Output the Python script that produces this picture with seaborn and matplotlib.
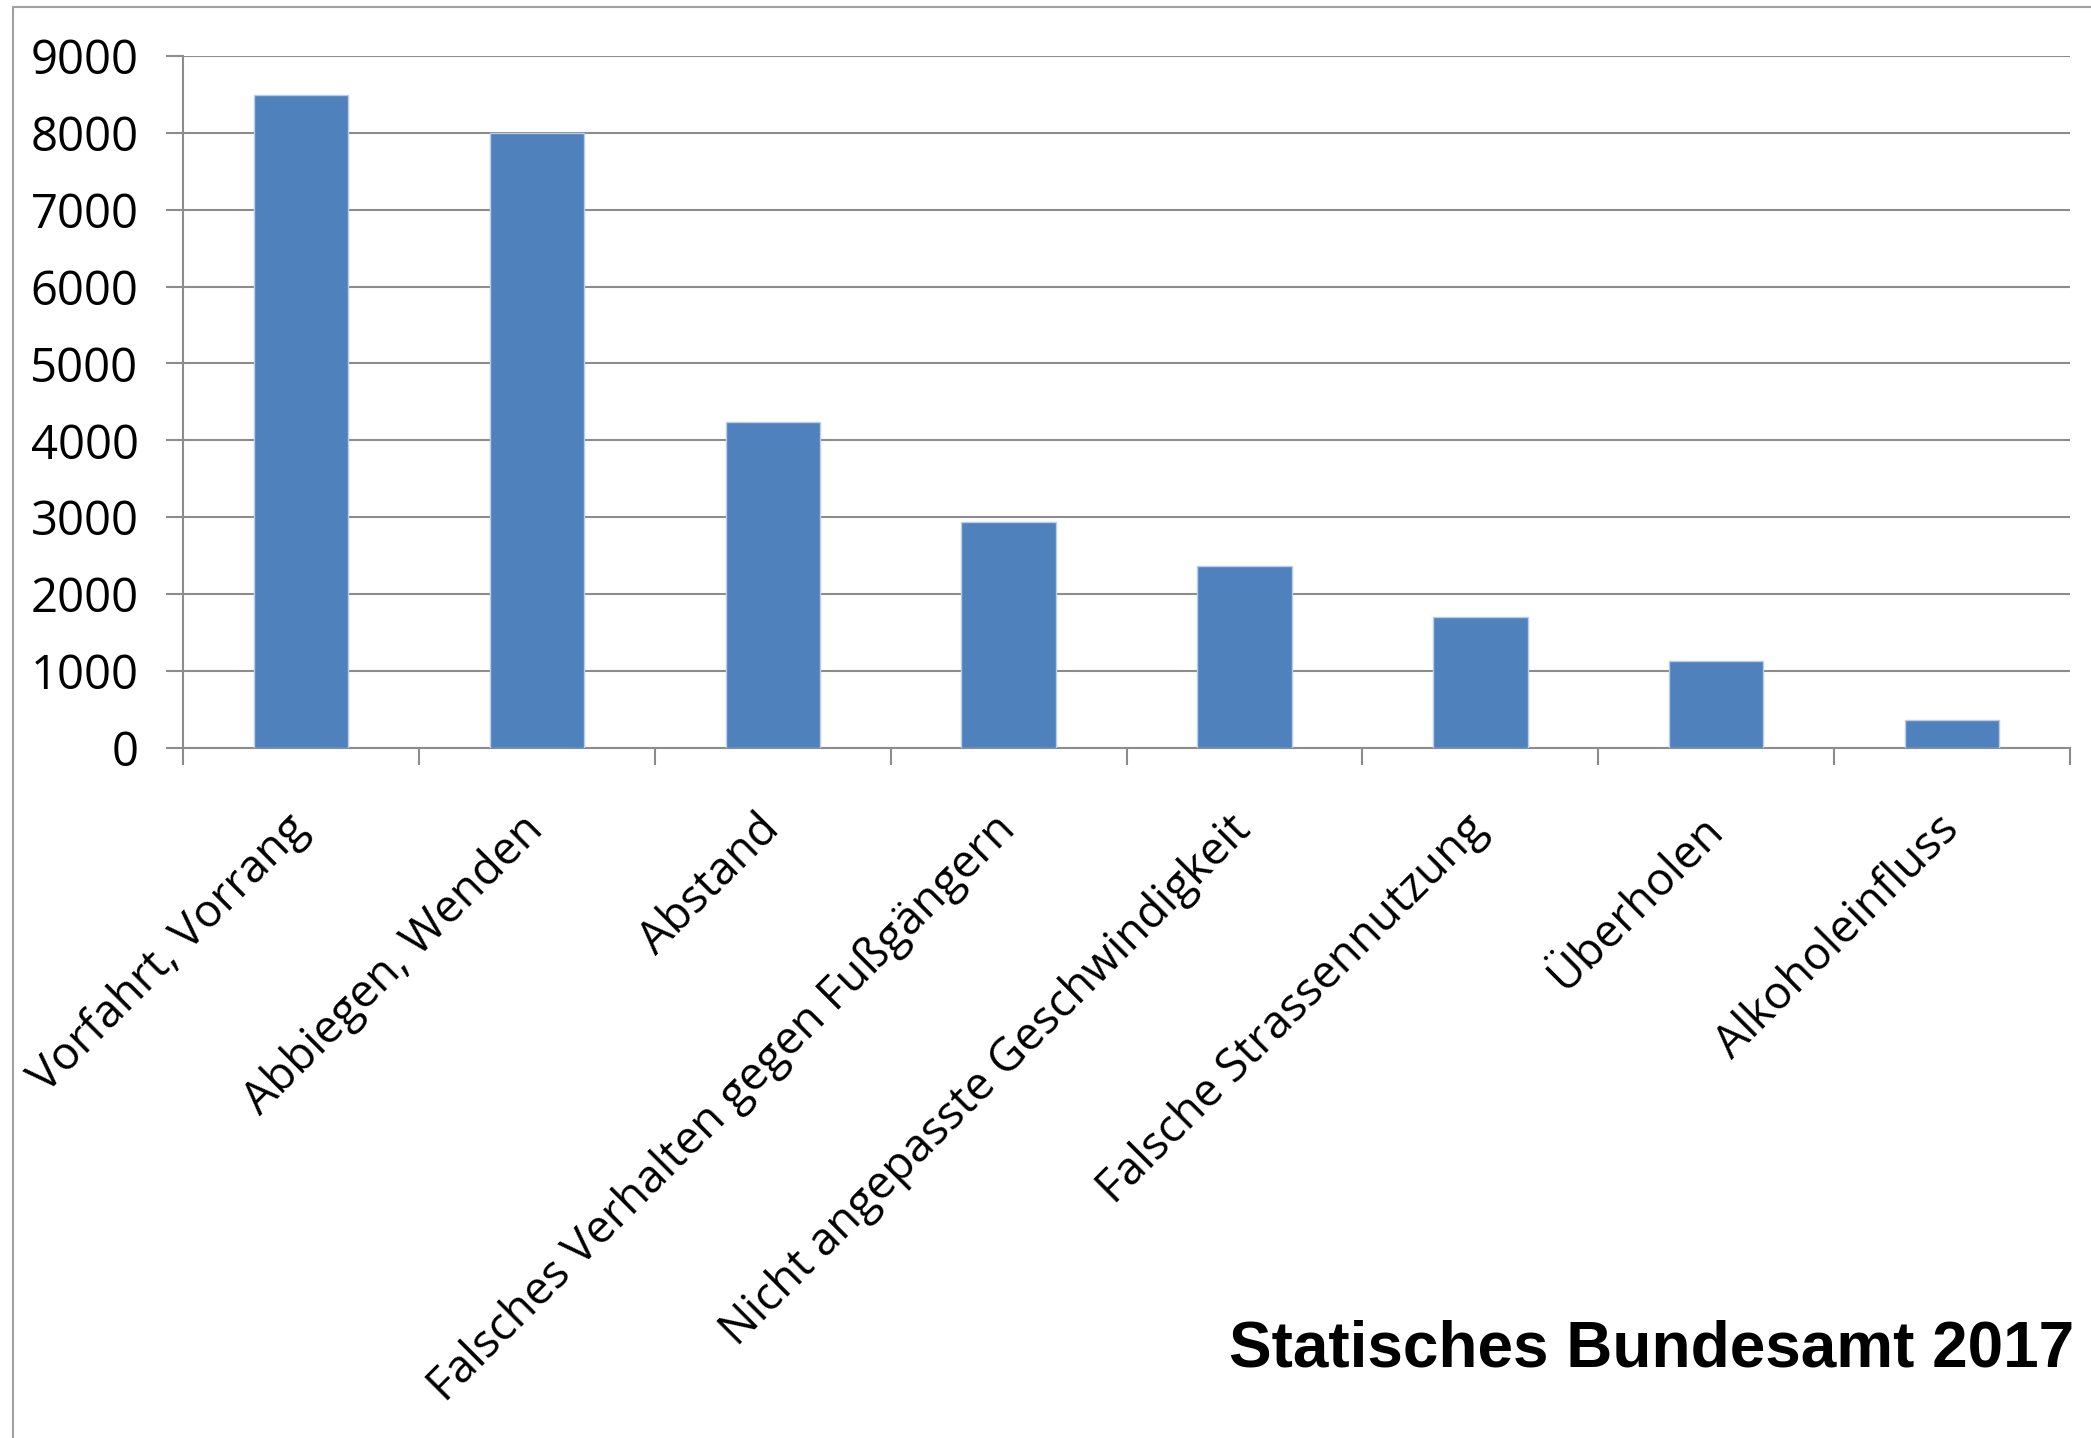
import matplotlib.pyplot as plt
import pandas as pd
import seaborn as sns
from matplotlib.lines import Line2D

categories = [
    "Vorfahrt, Vorrang",
    "Abbiegen, Wenden",
    "Abstand",
    "Falsches Verhalten gegen Fußgängern",
    "Nicht angepasste Geschwindigkeit",
    "Falsche Strassennutzung",
    "Überholen",
    "Alkoholeinfluss",
]
values = [8490, 8000, 4240, 2935, 2360, 1695, 1125, 355]
yticks = list(range(0, 9001, 1000))

df = pd.DataFrame({"cause": categories, "count": values})

sns.set_style("white")
plt.rcParams["font.family"] = ["Open Sans", "DejaVu Sans"]
plt.rcParams["text.color"] = "black"

grid_col = "#8c8c8c"

fig = plt.figure(figsize=(20.91, 14.38), dpi=100)
ax = fig.add_axes([0.0875, 0.480, 0.9025, 0.481])

sns.barplot(
    x="cause", y="count", data=df, color="#4f81bd", saturation=1,
    width=0.4, edgecolor="#b9cde5", linewidth=1, ax=ax, zorder=3,
)

ax.set(xlim=(-0.5, 7.5), ylim=(0, 9000), xlabel="", ylabel="")
ax.set_yticks(yticks)
ax.set_yticklabels([str(t) for t in yticks], fontsize=34, color="black")
ax.yaxis.grid(True, color=grid_col, linewidth=1.5, zorder=0)
ax.set_axisbelow(True)

# tick marks sit between the categories, labels sit under the bars
ax.set_xticks([i - 0.5 for i in range(len(categories) + 1)])
ax.set_xticklabels([])
ax.set_xticks(range(len(categories)), minor=True)
ax.set_xticklabels(categories, minor=True, rotation=45, ha="right",
                   va="center", rotation_mode="anchor", fontsize=33,
                   color="black")
ax.tick_params(axis="x", which="major", length=12, width=1.5, color=grid_col,
               direction="out", bottom=True)
ax.tick_params(axis="x", which="minor", length=0, pad=54)
ax.tick_params(axis="y", length=12, width=1.5, color=grid_col,
               direction="out", left=True, pad=20)

for side in ["top", "right"]:
    ax.spines[side].set_visible(False)
for side in ["left", "bottom"]:
    ax.spines[side].set_color(grid_col)
    ax.spines[side].set_linewidth(1.5)

# light frame around the chart area
fig.add_artist(Line2D([0.0064, 0.0064], [0, 0.995], color="#a0a0a0", lw=1.5))
fig.add_artist(Line2D([0.0064, 1.0], [0.995, 0.995], color="#a0a0a0", lw=1.5))

fig.text(0.992, 0.050, "Statisches Bundesamt 2017", ha="right", va="baseline",
         fontsize=46, fontweight="bold", color="black",
         family=["Liberation Sans", "DejaVu Sans"])

fig.savefig("out.png", dpi=100)
